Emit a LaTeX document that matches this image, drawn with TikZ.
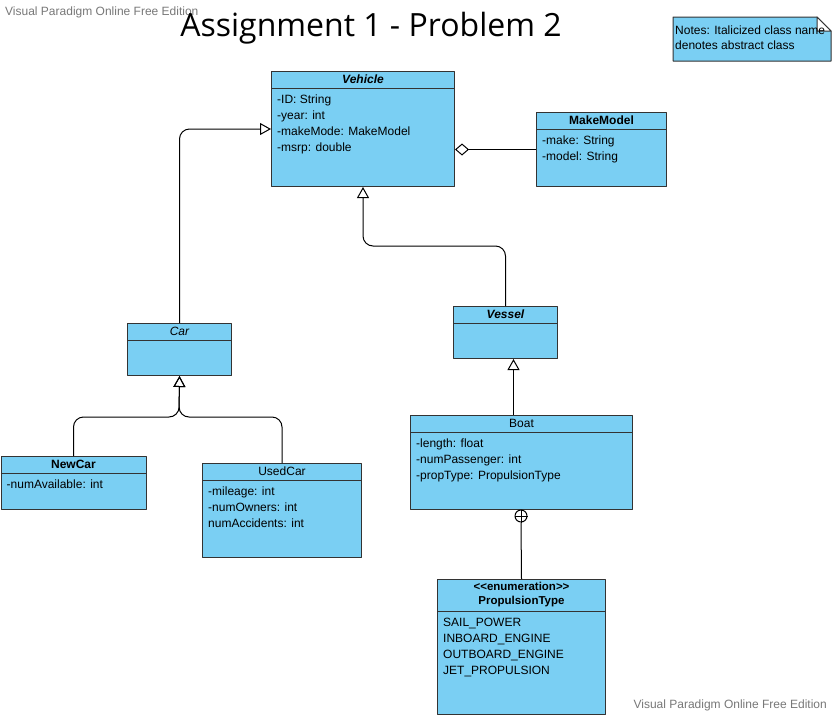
\documentclass[tikz,border=0pt]{standalone}
\usepackage{fontspec}
\setmainfont{Liberation Sans}
\newfontfamily\titlefont{Open Sans}
\usetikzlibrary{arrows.meta}
\definecolor{vpblue}{RGB}{122,207,243}
\definecolor{vpline}{RGB}{51,51,51}
\definecolor{vpgray}{RGB}{120,120,120}
\begin{document}
\begin{tikzpicture}[x=1pt,y=-1pt,line join=round,
		cls/.style={draw=vpline,fill=vpblue,line width=1pt,anchor=north west,inner sep=0pt},
		sep/.style={draw=vpline,line width=1pt},
		hdr/.style={inner sep=0pt,font=\fontsize{12}{14}\selectfont},
		attr/.style={anchor=north west,inner sep=0pt,align=left,font=\fontsize{12}{16}\selectfont},
		gen/.style={draw,line width=1pt,rounded corners=10pt,-{Triangle[open,length=11pt,width=12pt]}},
		agg/.style={draw,line width=1pt,-{Diamond[open,length=14pt,width=12pt]}},
		watermark/.style={text=vpgray,inner sep=0pt,font=\fontsize{12}{14}\selectfont}]
	\fill[white] (0,0) rectangle (832,715);
	\useasboundingbox (0,0) rectangle (832,715);
	\node[watermark,anchor=west] (vp-top) at (5,12) {Visual Paradigm Online Free Edition};
	\node[watermark,anchor=east] (vp-bottom) at (827,705) {Visual Paradigm Online Free Edition};
	\node[inner sep=0pt,font=\titlefont\fontsize{32}{38}\selectfont] (title) at (371,28) {Assignment 1 - Problem 2};
	% note in the corner
	\draw[vpline,fill=vpblue,line width=1pt] (673,17) -- (817,17) -- (831,31) -- (831,61) -- (673,61) -- cycle;
	\draw[vpline,fill=white,line width=1pt] (817,17) -- (831,31) -- (817,31) -- cycle;
	\node[anchor=north west,align=left,inner sep=0pt,font=\fontsize{12}{15}\selectfont] (note) at (675,25.5) {Notes: Italicized class name\\denotes abstract class};
	% classes
	\node[cls,minimum width=183pt,minimum height=115pt] (vehicle) at (271,71) {};
	\draw[sep] ([yshift=-17pt]vehicle.north west) -- ([yshift=-17pt]vehicle.north east);
	\node[hdr] (vehicle-t) at ([yshift=-8.5pt]vehicle.north) {\bfseries\itshape Vehicle};
	\node[attr] (vehicle-a) at ([xshift=6pt,yshift=-24pt]vehicle.north west) {-ID: String\\-year: int\\-makeMode: MakeModel\\-msrp: double};
	\node[cls,minimum width=130pt,minimum height=74pt] (makemodel) at (536,112) {};
	\draw[sep] ([yshift=-17pt]makemodel.north west) -- ([yshift=-17pt]makemodel.north east);
	\node[hdr] (makemodel-t) at ([yshift=-8.5pt]makemodel.north) {\bfseries MakeModel};
	\node[attr] (makemodel-a) at ([xshift=6pt,yshift=-24pt]makemodel.north west) {-make: String\\-model: String};
	\node[cls,minimum width=104pt,minimum height=52pt] (car) at (127,323) {};
	\draw[sep] ([yshift=-17pt]car.north west) -- ([yshift=-17pt]car.north east);
	\node[hdr] (car-t) at ([yshift=-8.5pt]car.north) {\itshape Car};
	\node[cls,minimum width=104pt,minimum height=52pt] (vessel) at (453,306) {};
	\draw[sep] ([yshift=-17pt]vessel.north west) -- ([yshift=-17pt]vessel.north east);
	\node[hdr] (vessel-t) at ([yshift=-8.5pt]vessel.north) {\bfseries\itshape Vessel};
	\node[cls,minimum width=145pt,minimum height=53pt] (newcar) at (0.5,456) {};
	\draw[sep] ([yshift=-17pt]newcar.north west) -- ([yshift=-17pt]newcar.north east);
	\node[hdr] (newcar-t) at ([yshift=-8.5pt]newcar.north) {\bfseries NewCar};
	\node[attr] (newcar-a) at ([xshift=6pt,yshift=-24pt]newcar.north west) {-numAvailable: int};
	\node[cls,minimum width=159pt,minimum height=94pt] (usedcar) at (202,463) {};
	\draw[sep] ([yshift=-17pt]usedcar.north west) -- ([yshift=-17pt]usedcar.north east);
	\node[hdr] (usedcar-t) at ([yshift=-8.5pt]usedcar.north) {UsedCar};
	\node[attr] (usedcar-a) at ([xshift=6pt,yshift=-24pt]usedcar.north west) {-mileage: int\\-numOwners: int\\numAccidents: int};
	\node[cls,minimum width=222pt,minimum height=94pt] (boat) at (410,415) {};
	\draw[sep] ([yshift=-17pt]boat.north west) -- ([yshift=-17pt]boat.north east);
	\node[hdr] (boat-t) at ([yshift=-8.5pt]boat.north) {Boat};
	\node[attr] (boat-a) at ([xshift=6pt,yshift=-24pt]boat.north west) {-length: float\\-numPassenger: int\\-propType: PropulsionType};
	\node[cls,minimum width=168pt,minimum height=135pt] (propulsion) at (437,579) {};
	\draw[sep] ([yshift=-32pt]propulsion.north west) -- ([yshift=-32pt]propulsion.north east);
	\node[hdr,align=center,font=\fontsize{11.5}{14}\selectfont\bfseries] (propulsion-t) at ([yshift=-16pt]propulsion.north) {<\kern0pt<enumeration>\kern0pt>\\PropulsionType};
	\node[attr] (propulsion-a) at ([xshift=6pt,yshift=-39pt]propulsion.north west) {SAIL\_POWER\\INBOARD\_ENGINE\\OUTBOARD\_ENGINE\\JET\_PROPULSION};
	% connectors
	\coordinate (carjoin) at (179,417);
	\draw[gen] (car.north) |- (vehicle.west);
	\draw[gen] (vessel.north) -- (vessel.north |- 0,246) -| (vehicle.south);
	\draw[agg] (makemodel.west) -- (makemodel.west -| vehicle.east);
	\draw[gen] (newcar.north) |- (carjoin) -- (car.south);
	\draw[gen] (usedcar.north) |- (carjoin) -- (car.south);
	\draw[gen] ([xshift=-8pt]boat.north) -- ([xshift=8pt]vessel.south);
	\node[draw,circle,line width=1pt,minimum size=12pt,inner sep=0pt,fill=white] (nest) at (521,516) {};
	\draw[line width=0.8pt] (nest.north) -- (nest.south) (nest.west) -- (nest.east);
	\draw[line width=1pt] (nest.south) -- (propulsion.north);
\end{tikzpicture}
\end{document}
